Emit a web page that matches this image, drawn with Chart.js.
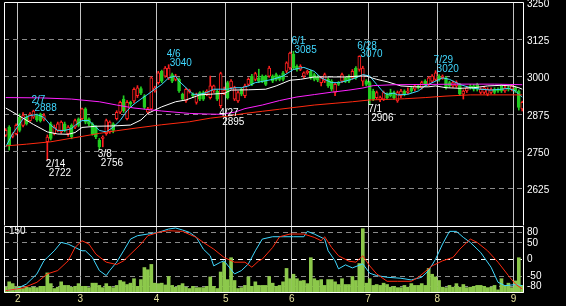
<!DOCTYPE html>
<html>
<head>
<meta charset="utf-8">
<script src="https://cdn.jsdelivr.net/npm/chart.js@4.4.1/dist/chart.umd.min.js"></script>
<style>
  html, body { margin: 0; padding: 0; background: #000; }
  #wrap { position: relative; width: 566px; height: 306px; background: #000; overflow: hidden; }
  #priceChart { position: absolute; left: 0; top: 0; }
  #subChart { position: absolute; left: 0; top: 226px; }
</style>
</head>
<body>
<div id="wrap">
  <canvas id="priceChart" width="566" height="226"></canvas>
  <canvas id="subChart" width="566" height="80"></canvas>
</div>
<script>
// Daily candles (late Jan - early Sep) with moving averages, volume and oscillator

const barCount = 150;

// first bar of each month and the month number shown under it
const monthStarts = [4, 22, 44, 64, 83, 105, 125, 147];
const monthLabels = ['2', '3', '4', '5', '6', '7', '8', '9'];

const priceTicks = [3250, 3125, 3000, 2875, 2750, 2625];
const oscTicks = [80, 50, 0, -50, -80];
const volTicks = [150];

const openP = [
  2804, 2831, 2800, 2809, 2864, 2837, 2864, 2853, 2864, 2870,
  2875, 2858, 2782, 2842, 2809, 2820, 2815, 2842, 2809, 2837,
  2831, 2859, 2859, 2892, 2859, 2842, 2831, 2787, 2793, 2809,
  2815, 2842, 2859, 2881, 2925, 2859, 2914, 2919, 2936, 2960,
  2936, 2881, 2892, 2952, 2980, 3018, 3002, 2996, 3007, 2991,
  2991, 2941, 2919, 2950, 2941, 2914, 2947, 2947, 2941, 2930,
  2952, 2952, 2903, 2945, 2980, 2963, 2925, 2919, 2958, 2936,
  2974, 3002, 2991, 2996, 3002, 3002, 3002, 3002, 3007, 3002,
  3013, 3018, 3029, 3076, 3035, 3024, 3002, 3013, 3018, 3007,
  2999, 2980, 2985, 2991, 2985, 2947, 2980, 2985, 2996, 3002,
  2996, 3029, 3024, 2985, 2985, 2980, 2952, 2930, 2922, 2925,
  2941, 2947, 2947, 2919, 2936, 2952, 2947, 2963, 2958, 2969,
  2963, 2985, 2974, 2985, 2991, 3002, 2996, 2996, 2980, 2969,
  2969, 2974, 2941, 2952, 2969, 2969, 2974, 2947, 2947, 2941,
  2947, 2958, 2958, 2969, 2952, 2963, 2958, 2963, 2952, 2892
];
const highP = [
  2826, 2836, 2812, 2842, 2875, 2880, 2870, 2880, 2888, 2875,
  2878, 2876, 2805, 2848, 2838, 2848, 2852, 2848, 2836, 2842,
  2858, 2862, 2895, 2896, 2862, 2846, 2836, 2793, 2802, 2858,
  2852, 2846, 2886, 2918, 2936, 2920, 2918, 2963, 2970, 2966,
  2940, 2897, 3000, 2968, 3018, 3022, 3034, 3040, 3012, 3008,
  2996, 2945, 2962, 2958, 2946, 2945, 2950, 2952, 2956, 3002,
  2972, 2956, 3015, 2965, 2985, 2990, 2968, 2952, 2962, 2975,
  2996, 3008, 3015, 3025, 3006, 3005, 3035, 3006, 3012, 3005,
  3018, 3050, 3082, 3085, 3040, 3040, 3016, 3022, 3022, 3012,
  3004, 3000, 3012, 2996, 2990, 2978, 2984, 3012, 3000, 3006,
  3024, 3034, 3070, 3035, 2990, 2985, 2958, 2952, 2935, 2952,
  2946, 2958, 2952, 2952, 2958, 2956, 2963, 2968, 2972, 2974,
  2985, 2990, 3000, 3007, 3020, 3007, 3006, 3000, 2985, 2985,
  2986, 2978, 2956, 2968, 2974, 2974, 2978, 2963, 2968, 2963,
  2963, 2963, 2963, 2974, 2968, 2968, 2974, 2968, 2956, 2918
];
const lowP = [
  2800, 2754, 2795, 2805, 2815, 2832, 2838, 2850, 2860, 2850,
  2848, 2852, 2722, 2788, 2805, 2815, 2810, 2815, 2800, 2792,
  2826, 2832, 2855, 2842, 2836, 2804, 2792, 2756, 2765, 2804,
  2810, 2812, 2855, 2876, 2880, 2855, 2900, 2912, 2930, 2940,
  2892, 2876, 2888, 2948, 2975, 2980, 2998, 2990, 2980, 2986,
  2947, 2920, 2914, 2945, 2930, 2908, 2920, 2920, 2936, 2925,
  2947, 2920, 2895, 2940, 2925, 2958, 2920, 2914, 2936, 2930,
  2970, 2970, 2986, 2980, 2980, 2970, 2998, 2980, 2986, 2986,
  2986, 3013, 3024, 3024, 3018, 3020, 2996, 3008, 2991, 2986,
  2983, 2969, 2980, 2964, 2952, 2936, 2970, 2980, 2980, 2980,
  2991, 2991, 3018, 2969, 2969, 2906, 2920, 2925, 2916, 2920,
  2925, 2932, 2925, 2914, 2930, 2936, 2942, 2947, 2952, 2958,
  2958, 2969, 2969, 2980, 2986, 2985, 2991, 2958, 2964, 2964,
  2964, 2936, 2925, 2947, 2958, 2952, 2952, 2942, 2942, 2936,
  2942, 2942, 2947, 2947, 2947, 2952, 2952, 2947, 2888, 2885
];
const closeP = [
  2820, 2771, 2806, 2837, 2820, 2870, 2842, 2875, 2885, 2855,
  2853, 2870, 2798, 2793, 2831, 2842, 2848, 2820, 2831, 2798,
  2853, 2837, 2892, 2848, 2842, 2809, 2798, 2765, 2798, 2853,
  2848, 2820, 2881, 2914, 2886, 2914, 2908, 2958, 2963, 2945,
  2897, 2892, 2996, 2963, 3013, 2985, 3029, 3029, 2985, 3002,
  2952, 2925, 2958, 2955, 2936, 2941, 2925, 2925, 2952, 2969,
  2969, 2925, 3010, 2955, 2930, 2985, 2963, 2947, 2941, 2969,
  2991, 2974, 3010, 2985, 2985, 2974, 3029, 2985, 2991, 2991,
  2991, 3046, 3079, 3029, 3024, 3035, 3013, 3018, 2996, 2991,
  2988, 2996, 3007, 2969, 2958, 2974, 2974, 3007, 2985, 2985,
  3018, 2996, 3068, 3029, 2974, 2925, 2925, 2947, 2930, 2947,
  2930, 2936, 2930, 2947, 2952, 2941, 2952, 2952, 2969, 2963,
  2980, 2974, 2996, 3002, 3013, 2991, 3002, 2963, 2969, 2980,
  2980, 2941, 2952, 2963, 2963, 2958, 2958, 2958, 2963, 2958,
  2958, 2947, 2952, 2952, 2963, 2958, 2969, 2952, 2897, 2914
];
const volume = [
  13, 25, 21, 13, 15, 10, 13, 12, 13, 12,
  15, 15, 45, 21, 10, 13, 25, 17, 17, 13,
  15, 21, 15, 15, 12, 22, 22, 17, 12, 21,
  15, 12, 17, 28, 25, 19, 22, 32, 15, 30,
  57, 52, 64, 22, 21, 22, 18, 37, 17, 13,
  17, 21, 13, 10, 15, 12, 12, 12, 15, 36,
  15, 10, 47, 69, 30, 79, 28, 10, 12, 17,
  36, 15, 25, 17, 17, 17, 37, 22, 15, 17,
  25, 55, 32, 42, 32, 27, 28, 21, 79, 32,
  28, 30, 17, 30, 30, 25, 19, 32, 19, 19,
  37, 28, 66, 144, 22, 32, 17, 19, 17, 22,
  19, 13, 15, 12, 12, 17, 13, 21, 17, 17,
  21, 17, 55, 42, 36, 28, 13, 12, 17, 13,
  21, 13, 19, 12, 13, 15, 17, 17, 15, 12,
  13, 17, 7, 32, 17, 22, 12, 27, 79, 17
];

// moving averages as [bar, value]
const maShort = [
  [0, 2765], [2, 2809], [4, 2842], [5, 2859], [7, 2870], [9, 2873], [11, 2864], [13, 2837],
  [15, 2820], [17, 2820], [19, 2826], [20, 2837], [22, 2853], [24, 2853], [25, 2842], [27, 2820],
  [29, 2815], [31, 2831], [33, 2853], [35, 2886], [37, 2908], [39, 2925], [41, 2941], [43, 2958],
  [45, 2974], [47, 2996], [49, 3002], [50, 2985], [52, 2963], [54, 2941], [56, 2941], [58, 2947],
  [60, 2958], [62, 2958], [64, 2958], [66, 2963], [68, 2963], [70, 2969], [72, 2980], [74, 2984],
  [77, 2991], [80, 3002], [83, 3024], [85, 3029], [86, 3031], [89, 3018], [91, 2996], [94, 2980],
  [96, 2980], [98, 2985], [101, 2996], [103, 3007], [105, 3002], [107, 2974], [109, 2947], [110, 2941],
  [112, 2945], [113, 2939], [116, 2941], [119, 2952], [121, 2969], [124, 2985], [126, 2996], [128, 2991],
  [131, 2974], [134, 2963], [137, 2958], [140, 2955], [143, 2958], [145, 2961], [147, 2952], [148, 2941],
  [149, 2932]
];
const maMid = [
  [0, 2895], [4, 2868], [8, 2840], [12, 2815], [15, 2808], [18, 2807], [20, 2813], [22, 2830],
  [26, 2834], [31, 2835], [36, 2838], [39, 2855], [41, 2877], [45, 2899], [49, 2916], [52, 2922],
  [56, 2939], [60, 2942], [63, 2944], [65, 2955], [70, 2956], [75, 2958], [78, 2969], [82, 2988],
  [85, 2991], [89, 2999], [94, 2999], [98, 2999], [102, 3002], [104, 3002], [107, 2991], [110, 2983],
  [112, 2976], [114, 2969], [118, 2966], [122, 2966], [124, 2969], [127, 2963], [131, 2961], [135, 2963],
  [139, 2969], [143, 2971], [146, 2969], [148, 2963], [149, 2958]
];
const maLong = [
  [0, 2930], [10, 2929], [19, 2925], [27, 2916], [32, 2905], [37, 2895], [45, 2885], [53, 2877],
  [58, 2875], [62, 2874], [66, 2881], [69, 2893], [74, 2905], [79, 2920], [84, 2932], [89, 2940],
  [94, 2948], [99, 2955], [103, 2962], [106, 2970], [112, 2973], [122, 2974], [131, 2975], [141, 2975],
  [149, 2973]
];
const maVeryLong = [
  [0, 2768], [6, 2774], [13, 2782], [20, 2796], [27, 2810], [32, 2819], [37, 2827], [45, 2839],
  [53, 2849], [59, 2861], [64, 2868], [69, 2877], [74, 2884], [79, 2891], [84, 2898], [89, 2905],
  [95, 2911], [100, 2916], [105, 2922], [110, 2924], [115, 2926], [121, 2930], [127, 2935], [134, 2939],
  [142, 2939], [149, 2939]
];

// lower panel oscillator lines, [bar, value]
const oscFast = [
  [0, -93], [3, -88], [6, -73], [9, -43], [11, -4], [12, 6], [14, 26], [16, 51], [18, 46],
  [20, 36], [22, 26], [23, 26], [25, 6], [27, -33], [29, -48], [30, -33], [32, -8], [34, 26],
  [36, 61], [38, 71], [41, 76], [44, 81], [47, 91], [49, 94], [51, 88], [53, 81], [55, 66],
  [57, 31], [59, 11], [60, -19], [62, -8], [63, -4], [66, -43], [68, -33], [70, -13], [72, 26],
  [74, 61], [77, 68], [80, 68], [83, 68], [86, 68], [87, 84], [89, 76], [92, 61], [93, 26],
  [95, -4], [96, -28], [98, -16], [100, -25], [103, -13], [105, -41], [107, -48], [110, -53],
  [114, -56], [117, -61], [120, -53], [122, -33], [124, 1], [126, 46], [128, 84], [130, 84],
  [132, 66], [134, 51], [137, 21], [140, -23], [142, -68], [144, -78], [147, -75], [149, -78]
];
const oscSlow = [
  [0, -93], [5, -85], [9, -68], [12, -43], [15, -33], [18, -4], [20, 36], [22, 56], [24, 46],
  [26, 16], [29, -8], [32, -15], [34, -4], [37, 26], [39, 46], [41, 71], [44, 81], [47, 86],
  [51, 84], [55, 66], [57, 51], [60, 31], [63, 6], [66, -8], [69, -8], [71, -23], [73, -4],
  [74, 1], [77, 36], [79, 68], [82, 76], [86, 76], [89, 66], [91, 56], [92, 68], [94, 36],
  [96, 11], [99, -5], [101, -8], [103, 11], [105, -19], [107, -43], [110, -65], [113, -65],
  [117, -65], [119, -53], [123, -19], [126, -4], [129, 6], [131, 31], [134, 61], [136, 51],
  [139, 26], [142, -8], [145, -48], [147, -73], [149, -88]
];

// labelled highs and lows: [date, bar]
const highMarks = [['2/7', 8], ['4/6', 47], ['6/1', 83], ['6/28', 102], ['7/29', 124]];
const lowMarks = [['2/14', 12], ['3/8', 27], ['4/27', 62], ['7/1', 105]];

const RED = '#ff2020';
const GREEN = '#22cc22';
const CYAN = '#40d8ff';
const GRID = '#8a8a8a';
const FONT = { family: '"Liberation Sans", Arial, sans-serif', size: 10 };

Chart.defaults.font.family = FONT.family;
Chart.defaults.font.size = FONT.size;

function isUp(i) {
  return closeP[i] >= openP[i];
}

function toPoints(pairs) {
  return pairs.map(([i, v]) => ({ x: i, y: v }));
}

function lineSet(pairs, color, axis) {
  return {
    type: 'line',
    data: toPoints(pairs),
    yAxisID: axis,
    borderColor: color,
    borderWidth: 1,
    pointRadius: 0,
    tension: 0,
    order: 0
  };
}

function noPadding(s) {
  s.paddingTop = 0;
  s.paddingBottom = 0;
  s.paddingLeft = 0;
  s.paddingRight = 0;
}

function xScale(showLabels) {
  return {
    type: 'linear',
    min: -0.5,
    max: barCount - 0.5,
    offset: false,
    afterBuildTicks: s => { s.ticks = monthStarts.map(v => ({ value: v - 0.5 })); },
    afterFit: s => { s.height = showLabels ? 13 : 0; noPadding(s); },
    grid: { offset: false, color: '#c4c4c4', lineWidth: 1, drawTicks: false },
    border: { display: false },
    ticks: {
      display: showLabels,
      autoSkip: false,
      maxRotation: 0,
      padding: 0,
      color: '#e6e29c',
      font: FONT,
      callback: (v, i) => monthLabels[i]
    }
  };
}

// white frame round the plot area
const framePlugin = {
  id: 'frame',
  afterDraw(chart, args, opts) {
    const { ctx, chartArea: a } = chart;
    const l = Math.round(a.left) + 0.5;
    const r = Math.round(a.right) - 0.5;
    const t = Math.round(a.top) + 0.5;
    const b = Math.round(a.bottom) - 0.5;
    ctx.save();
    ctx.strokeStyle = '#ffffff';
    ctx.lineWidth = 1;
    ctx.beginPath();
    ctx.moveTo(l, b);
    ctx.lineTo(l, t);
    ctx.lineTo(r, t);
    ctx.lineTo(r, b);
    if (opts.closed) ctx.lineTo(l, b);
    ctx.stroke();
    ctx.restore();
  }
};

// date / price notes at the marked highs and lows
const markPlugin = {
  id: 'marks',
  afterDatasetsDraw(chart) {
    const { ctx, scales: { x, y } } = chart;
    ctx.save();
    ctx.font = '10px ' + FONT.family;
    ctx.textBaseline = 'middle';
    ctx.textAlign = 'left';
    ctx.fillStyle = CYAN;
    highMarks.forEach(([date, i]) => {
      const px = x.getPixelForValue(i);
      const py = y.getPixelForValue(highP[i]);
      ctx.fillText(date, px - 2, py - 10);
      ctx.fillText(String(highP[i]), px + 1, py - 1.5);
    });
    ctx.fillStyle = '#ffffff';
    lowMarks.forEach(([date, i]) => {
      const px = x.getPixelForValue(i);
      const py = y.getPixelForValue(lowP[i]);
      ctx.fillText(date, px - 1.5, py + 5);
      ctx.fillText(String(lowP[i]), px + 1.5, py + 14);
    });
    ctx.restore();
  }
};

const bodies = openP.map((o, i) => ({ x: i, y: [o, closeP[i]] }));
const wicks = lowP.map((l, i) => ({ x: i, y: [l, highP[i]] }));
const volBars = volume.map((v, i) => ({ x: i, y: v }));

new Chart(document.getElementById('priceChart'), {
  type: 'bar',
  data: {
    datasets: [
      lineSet(maVeryLong, '#ff2a10', 'y'),
      lineSet(maLong, '#ff22ff', 'y'),
      lineSet(maMid, '#ffffff', 'y'),
      lineSet(maShort, CYAN, 'y'),
      {
        type: 'bar',
        data: bodies,
        grouped: false,
        barThickness: 3,
        minBarLength: 1,
        borderWidth: 1,
        borderSkipped: false,
        backgroundColor: c => isUp(c.dataIndex) ? '#000000' : GREEN,
        borderColor: c => isUp(c.dataIndex) ? RED : GREEN,
        order: 1
      },
      {
        type: 'bar',
        data: wicks,
        grouped: false,
        barThickness: 1,
        borderWidth: 0,
        backgroundColor: c => isUp(c.dataIndex) ? RED : GREEN,
        order: 2
      }
    ]
  },
  options: {
    responsive: false,
    animation: false,
    events: [],
    layout: { padding: { left: 4, top: 2, right: 0, bottom: 0 } },
    plugins: {
      legend: { display: false },
      tooltip: { enabled: false },
      frame: { closed: false }
    },
    scales: {
      x: xScale(false),
      y: {
        position: 'right',
        min: 2500,
        max: 3250,
        afterBuildTicks: s => { s.ticks = priceTicks.map(v => ({ value: v })); },
        afterFit: s => { s.width = 42; noPadding(s); },
        grid: {
          drawTicks: false,
          color: c => (c.tick && c.tick.value === 3250) ? 'rgba(0,0,0,0)' : GRID
        },
        border: { display: false, dash: [5, 4] },
        ticks: {
          autoSkip: false,
          color: '#ffffff',
          font: FONT,
          padding: 3,
          labelOffset: 2,
          callback: v => String(v)
        }
      }
    }
  },
  plugins: [framePlugin, markPlugin]
});

new Chart(document.getElementById('subChart'), {
  type: 'bar',
  data: {
    datasets: [
      lineSet(oscSlow, '#ff2a10', 'yo'),
      lineSet(oscFast, CYAN, 'yo'),
      {
        type: 'bar',
        data: volBars,
        yAxisID: 'yv',
        grouped: false,
        barThickness: 3,
        borderWidth: 0,
        backgroundColor: '#8cc84b',
        order: 1
      }
    ]
  },
  options: {
    responsive: false,
    animation: false,
    events: [],
    layout: { padding: { left: 4, top: 0, right: 0, bottom: 0 } },
    plugins: {
      legend: { display: false },
      tooltip: { enabled: false },
      frame: { closed: true }
    },
    scales: {
      x: xScale(true),
      yo: {
        position: 'right',
        min: -100,
        max: 100,
        afterBuildTicks: s => { s.ticks = oscTicks.map(v => ({ value: v })); },
        afterFit: s => { s.width = 42; noPadding(s); },
        grid: {
          drawTicks: false,
          color: c => (c.tick && c.tick.value === 0) ? '#ffffff' : GRID
        },
        border: { display: false, dash: [5, 4] },
        ticks: {
          autoSkip: false,
          color: '#ffffff',
          font: FONT,
          padding: 3,
          callback: v => String(v)
        }
      },
      yv: {
        position: 'left',
        min: 0,
        max: 150,
        afterBuildTicks: s => { s.ticks = volTicks.map(v => ({ value: v })); },
        afterFit: s => { s.width = 0; noPadding(s); },
        grid: { display: false, drawTicks: false },
        border: { display: false },
        ticks: {
          mirror: true,
          padding: 5,
          labelOffset: 5,
          color: '#ffffff',
          font: FONT,
          callback: v => String(v)
        }
      }
    }
  },
  plugins: [framePlugin]
});
</script>
</body>
</html>
